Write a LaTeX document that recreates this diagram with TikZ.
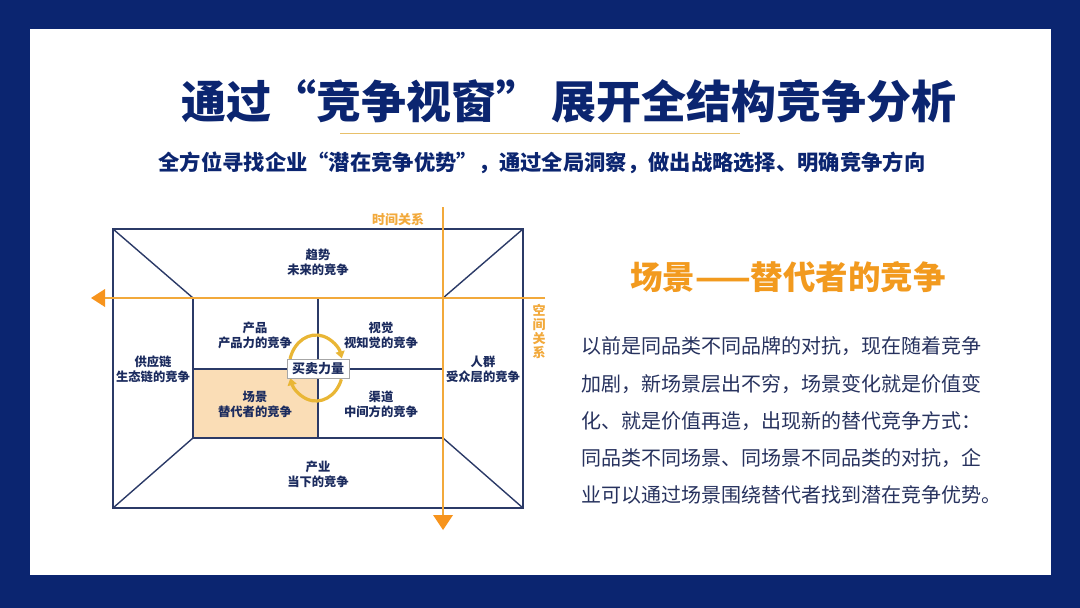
\documentclass[tikz,border=0pt]{standalone}
\usepackage{fontspec}
\setmainfont{Noto Sans CJK SC}
\usetikzlibrary{arrows.meta}
\definecolor{navy}{HTML}{0B2570}
\definecolor{ink}{HTML}{1B2B5E}
\definecolor{bodyink}{HTML}{27325E}
\definecolor{lineink}{HTML}{2B3A67}
\definecolor{orangeline}{HTML}{F2A93B}
\definecolor{orangetip}{HTML}{F7941D}
\definecolor{headorange}{HTML}{F29A1E}
\definecolor{goldline}{HTML}{E8C06A}
\definecolor{cellfill}{HTML}{FADDB6}
\definecolor{arcgold}{HTML}{E9B635}
\tikzset{
  frameline/.style={draw=lineink, line width=1.4pt},
  axisline/.style={draw=orangeline, line width=2pt},
  lbl/.style={text=ink, font=\fontsize{12.3}{15}\selectfont\bfseries, align=center, inner sep=0pt},
  bodyline/.style={text=bodyink, font=\fontsize{20}{24}\selectfont, anchor=west, inner sep=0pt},
  cyclearc/.style={draw=arcgold, line width=3.2pt, -{Triangle[length=7pt,width=9pt]}},
}
\begin{document}
\begin{tikzpicture}[x=1pt,y=-1pt]
\useasboundingbox (0,0) rectangle (1080,608);
\fill[navy] (0,0) rectangle (1080,608);
\fill[white] (30,29) rectangle (1051,575);

% title
\node[text=navy, font=\fontsize{45}{52}\selectfont\bfseries, inner sep=0pt] (title) at (569,101) {通过“竞争视窗” 展开全结构竞争分析};
\coordinate (gl1) at (340,133);
\coordinate (gl2) at (740,133);
\draw[goldline, line width=1pt] (gl1) -- (gl2);
\node[text=navy, font=\fontsize{21.3}{25}\selectfont\bfseries, inner sep=0pt] (subtitle) at (542,163) {全方位寻找企业“潜在竞争优势”，通过全局洞察，做出战略选择、明确竞争方向};

% diagram geometry
\coordinate (o1) at (113,229);
\coordinate (o2) at (523,229);
\coordinate (o3) at (523,508);
\coordinate (o4) at (113,508);
\coordinate (i1) at (193,298);
\coordinate (i2) at (443,298);
\coordinate (i3) at (443,438);
\coordinate (i4) at (193,438);
\coordinate (mt) at (318,298);
\coordinate (mb) at (318,438);
\coordinate (ml) at (193,369);
\coordinate (mr) at (443,369);

\fill[cellfill] (193,369) rectangle (318,438);
\draw[frameline] (o1) -- (o2) -- (o3) -- (o4) -- cycle;
\draw[frameline] (i1) -- (i2) -- (i3) -- (i4) -- cycle;
\draw[frameline] (o1) -- (i1);
\draw[frameline] (o2) -- (i2);
\draw[frameline] (o3) -- (i3);
\draw[frameline] (o4) -- (i4);
\draw[frameline] (mt) -- (mb);
\draw[frameline] (ml) -- (mr);

% axes
\coordinate (vtop) at (443,207);
\coordinate (vbot) at (443,516);
\coordinate (vtip) at (443,530);
\coordinate (hright) at (545,298);
\coordinate (hleft) at (104,298);
\coordinate (htip) at (91,298);
\draw[axisline] (vtop) -- (vbot);
\draw[axisline] (hright) -- (hleft);
\fill[orangetip] (vtip) -- (433,515) -- (453,515) -- cycle;
\fill[orangetip] (htip) -- (105,289) -- (105,307) -- cycle;
\node[text=orangeline, font=\fontsize{13}{15}\selectfont\bfseries, inner sep=0pt] (tlabel) at (398,219) {时间关系};
\node[text=orangeline, font=\fontsize{13}{14}\selectfont\bfseries, inner sep=0pt, align=center] (slabel) at (539,331) {空\\间\\关\\系};

% labels
\node[lbl] (trend) at (318,262) {趋势\\未来的竞争};
\node[lbl] (product) at (255,335) {产品\\产品力的竞争};
\node[lbl] (vision) at (381,335) {视觉\\视知觉的竞争};
\node[lbl] (scene) at (255,404) {场景\\替代者的竞争};
\node[lbl] (channel) at (381,404) {渠道\\中间方的竞争};
\node[lbl] (supply) at (153,369) {供应链\\生态链的竞争};
\node[lbl] (crowd) at (483,369) {人群\\受众层的竞争};
\node[lbl] (industry) at (318,474) {产业\\当下的竞争};

% cycle arrows
\draw[cyclearc] (316,368) ++(196:27 and 33) arc[start angle=196, end angle=343, x radius=27, y radius=33];
\draw[cyclearc] (316,368) ++(20:27 and 33) arc[start angle=20, end angle=162, x radius=27, y radius=33];
\node[draw=gray!70, fill=white, line width=0.8pt, text=ink, font=\fontsize{13}{15}\selectfont\bfseries, minimum width=62pt, minimum height=19pt, inner sep=0pt] (force) at (318,368.5) {买卖力量};

% right text
\node[text=headorange, font=\fontsize{32.5}{38}\selectfont\bfseries, inner sep=0pt] (head) at (788,277) {场景——替代者的竞争};
\node[bodyline] (b1) at (581,346) {以前是同品类不同品牌的对抗，现在随着竞争};
\node[bodyline] (b2) at (581,384) {加剧，新场景层出不穷，场景变化就是价值变};
\node[bodyline] (b3) at (581,421) {化、就是价值再造，出现新的替代竞争方式：};
\node[bodyline] (b4) at (581,458) {同品类不同场景、同场景不同品类的对抗，企};
\node[bodyline] (b5) at (581,495) {业可以通过场景围绕替代者找到潜在竞争优势。};
\end{tikzpicture}
\end{document}
